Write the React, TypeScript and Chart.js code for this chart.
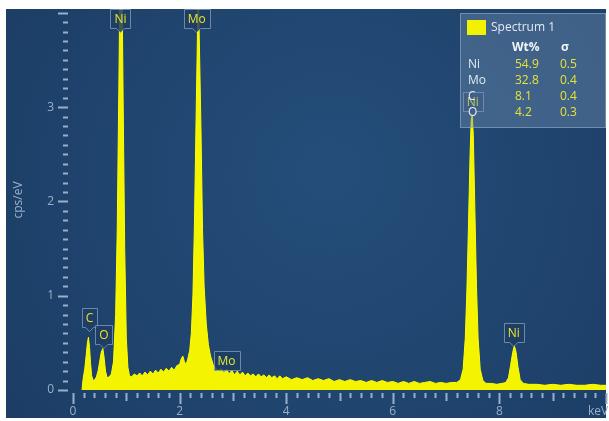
import React, { useEffect, useRef } from "react";
import { Chart, registerables } from "chart.js";

Chart.register(...registerables);

// ---- data ----
const energies = [
  0.17, 0.19, 0.22, 0.25, 0.27, 0.29, 0.31, 0.33, 0.35, 0.38, 0.41, 0.44, 0.47, 0.5, 0.53, 0.56, 0.58, 0.61, 0.64,
  0.68, 0.72, 0.76, 0.8, 0.83, 0.86, 0.88, 0.9, 0.92, 0.94, 0.97, 1.0, 1.03, 1.06, 1.1, 1.15, 1.2, 1.25, 1.3, 1.35,
  1.4, 1.45, 1.5, 1.55, 1.6, 1.65, 1.7, 1.75, 1.8, 1.85, 1.9, 1.95, 2.0, 2.03, 2.06, 2.09, 2.12, 2.15, 2.19, 2.22,
  2.25, 2.28, 2.31, 2.33, 2.35, 2.37, 2.4, 2.43, 2.46, 2.5, 2.54, 2.58, 2.63, 2.68, 2.73, 2.78, 2.83, 2.88, 2.93,
  2.98, 3.03, 3.08, 3.13, 3.18, 3.23, 3.28, 3.33, 3.38, 3.43, 3.48, 3.53, 3.58, 3.63, 3.68, 3.73, 3.78, 3.83, 3.88,
  3.93, 4.0, 4.1, 4.2, 4.3, 4.4, 4.5, 4.6, 4.7, 4.8, 4.9, 5.0, 5.1, 5.2, 5.3, 5.4, 5.5, 5.6, 5.7, 5.8, 5.9, 6.0,
  6.1, 6.2, 6.3, 6.4, 6.5, 6.6, 6.7, 6.8, 6.9, 7.0, 7.1, 7.2, 7.27, 7.32, 7.36, 7.39, 7.42, 7.45, 7.47, 7.49, 7.51,
  7.54, 7.57, 7.6, 7.64, 7.69, 7.75, 7.85, 7.95, 8.05, 8.12, 8.17, 8.21, 8.25, 8.28, 8.31, 8.35, 8.39, 8.45, 8.55,
  8.7, 8.85, 9.0, 9.15, 9.3, 9.45, 9.6, 9.75, 9.9, 10.0,
];
const counts = [
  0, 0.12, 0.22, 0.38, 0.5, 0.56, 0.45, 0.28, 0.15, 0.1, 0.11, 0.14, 0.2, 0.3, 0.4, 0.44, 0.36, 0.2, 0.13,
  0.14, 0.17, 0.3, 0.8, 1.7, 3.2, 4.3, 4.7, 4.3, 3.1, 1.5, 0.55, 0.24, 0.15, 0.14, 0.17, 0.15, 0.18, 0.15, 0.19,
  0.16, 0.2, 0.17, 0.21, 0.18, 0.22, 0.19, 0.23, 0.2, 0.24, 0.21, 0.26, 0.27, 0.33, 0.36, 0.3, 0.27, 0.32, 0.42, 0.6,
  1.0, 1.8, 2.9, 3.6, 4.3, 3.7, 2.8, 1.7, 1.1, 0.7, 0.48, 0.36, 0.27, 0.23, 0.21, 0.23, 0.18, 0.22, 0.17,
  0.21, 0.16, 0.2, 0.16, 0.19, 0.15, 0.18, 0.15, 0.17, 0.14, 0.17, 0.14, 0.16, 0.13, 0.16, 0.13, 0.15, 0.12, 0.15,
  0.12, 0.14, 0.11, 0.13, 0.11, 0.13, 0.1, 0.12, 0.1, 0.12, 0.09, 0.11, 0.09, 0.11, 0.09, 0.1, 0.08, 0.1, 0.08, 0.1, 0.08, 0.09,
  0.07, 0.09, 0.07, 0.09, 0.07, 0.08, 0.09, 0.07, 0.08, 0.07, 0.08, 0.08, 0.11, 0.22, 0.55, 1.05, 1.75, 2.5, 2.85, 2.92, 2.7,
  1.9, 1.1, 0.55, 0.22, 0.1, 0.07, 0.07, 0.06, 0.07, 0.08, 0.13, 0.26, 0.4, 0.47, 0.41, 0.24, 0.11, 0.07, 0.06,
  0.06, 0.05, 0.06, 0.05, 0.06, 0.05, 0.05, 0.06, 0.05, 0.05,
];

const xTickLabels = ["0", "2", "4", "6", "8"];
const yTickLabels = ["0", "1", "2", "3"];
const xAxisTitle = "keV";
const yAxisTitle = "cps/eV";

const peakLabelText = ["Ni", "Mo", "C", "O", "Mo", "Ni", "Ni"];
const peakLabelEnergy = [0.89, 2.32, 0.31, 0.58, 2.88, 7.5, 8.27];
const peakLabelValue = [3.8, 3.8, 0.63, 0.45, 0.31, 2.92, 0.47];
const peakLabelPointer = [true, true, true, true, false, true, true];

const legendTitle = "Spectrum 1";
const legendHeaders = ["Wt%", "σ"];
const legendElements = ["Ni", "Mo", "C", "O"];
const legendWt = ["54.9", "32.8", "8.1", "4.2"];
const legendSigma = ["0.5", "0.4", "0.4", "0.3"];

const FONT = "'Open Sans', 'DejaVu Sans', sans-serif";
const AXIS_COLOR = "#9ab0c8";

const backdropPlugin = {
  id: "backdrop",
  beforeDraw(chart: any) {
    const { ctx, width, height } = chart;
    ctx.save();
    ctx.fillStyle = "#ffffff";
    ctx.fillRect(0, 0, width, height);
    const g = ctx.createRadialGradient(330, 170, 20, 330, 200, 420);
    g.addColorStop(0, "rgb(36,77,121)");
    g.addColorStop(1, "rgb(27,60,100)");
    ctx.fillStyle = g;
    ctx.fillRect(6, 9, width - 9, height - 12);
    ctx.restore();
  },
};

const axesPlugin = {
  id: "customAxes",
  afterDatasetsDraw(chart: any) {
    const { ctx, scales } = chart;
    const xs = scales.x;
    const ys = scales.y;
    ctx.save();
    ctx.strokeStyle = AXIS_COLOR;
    ctx.fillStyle = AXIS_COLOR;
    ctx.lineWidth = 2;
    for (let i = 0; i <= 40; i++) {
      const v = i / 10;
      const py = Math.round(ys.getPixelForValue(v)) + 0.5;
      const major = i % 10 === 0;
      ctx.beginPath();
      ctx.moveTo(major ? 58 : 63, py);
      ctx.lineTo(68, py);
      ctx.stroke();
    }
    ctx.font = `12px ${FONT}`;
    ctx.textAlign = "right";
    ctx.textBaseline = "middle";
    yTickLabels.forEach((t) => {
      ctx.fillText(t, 54, ys.getPixelForValue(Number(t)));
    });
    for (let i = 0; i <= 50; i++) {
      const v = i / 5;
      const px = Math.round(xs.getPixelForValue(v)) + 0.5;
      let len = 5;
      if (i % 10 === 0) len = 11;
      else if (i % 5 === 0) len = 8;
      ctx.beginPath();
      ctx.moveTo(px, 393);
      ctx.lineTo(px, 393 + len);
      ctx.stroke();
    }
    ctx.textAlign = "center";
    xTickLabels.forEach((t) => {
      ctx.fillText(t, xs.getPixelForValue(Number(t)), 412);
    });
    ctx.fillText(xAxisTitle, 598, 412);
    ctx.save();
    ctx.translate(19, 200);
    ctx.rotate(-Math.PI / 2);
    ctx.fillText(yAxisTitle, 0, 0);
    ctx.restore();
    ctx.restore();
  },
};

const labelsPlugin = {
  id: "peakLabels",
  afterDatasetsDraw(chart: any) {
    const { ctx, scales } = chart;
    const xs = scales.x;
    const ys = scales.y;
    ctx.save();
    ctx.font = `12px ${FONT}`;
    ctx.textAlign = "center";
    ctx.textBaseline = "middle";
    peakLabelText.forEach((t, i) => {
      const cx = xs.getPixelForValue(peakLabelEnergy[i]);
      const vy = ys.getPixelForValue(peakLabelValue[i]);
      const w = Math.ceil(ctx.measureText(t).width) + 7;
      const h = 19;
      let top: number;
      if (peakLabelPointer[i]) top = vy - 4 - h;
      else top = vy - h / 2;
      const left = Math.round(cx - w / 2) + 0.5;
      top = Math.round(top) + 0.5;
      ctx.beginPath();
      ctx.moveTo(left, top);
      ctx.lineTo(left + w, top);
      ctx.lineTo(left + w, top + h);
      if (peakLabelPointer[i]) {
        ctx.lineTo(cx + 4, top + h);
        ctx.lineTo(cx, top + h + 4);
        ctx.lineTo(cx - 4, top + h);
      }
      ctx.lineTo(left, top + h);
      ctx.closePath();
      ctx.fillStyle = "rgba(30,62,98,0.85)";
      ctx.fill();
      ctx.strokeStyle = "rgba(130,160,195,0.75)";
      ctx.lineWidth = 1;
      ctx.stroke();
      ctx.fillStyle = "#e4e436";
      ctx.fillText(t, cx, top + h / 2 + 1);
    });
    ctx.restore();
  },
};

const legendPlugin = {
  id: "spectrumLegend",
  afterDraw(chart: any) {
    const { ctx, chartArea } = chart;
    const right = chartArea.right;
    const left = 460;
    const top = 13;
    ctx.save();
    ctx.fillStyle = "rgba(115,145,180,0.4)";
    ctx.fillRect(left, top, right - left, 115);
    ctx.strokeStyle = "rgba(160,185,215,0.5)";
    ctx.lineWidth = 1;
    ctx.strokeRect(left + 0.5, top + 0.5, right - left - 1, 114);
    ctx.fillStyle = "#f2f200";
    ctx.fillRect(467, 20, 19, 15);
    ctx.textBaseline = "middle";
    ctx.textAlign = "left";
    ctx.font = `12px ${FONT}`;
    ctx.fillStyle = "#e3eaf2";
    ctx.fillText(legendTitle, 491, 28);
    ctx.font = `bold 12px ${FONT}`;
    ctx.fillStyle = "#f0f4f8";
    ctx.fillText(legendHeaders[0], 512, 48);
    ctx.fillText(legendHeaders[1], 561, 48);
    ctx.font = `12px ${FONT}`;
    legendElements.forEach((el, i) => {
      const y = 65 + i * 16;
      ctx.fillStyle = "#e3eaf2";
      ctx.fillText(el, 468, y);
      ctx.fillStyle = "#e4e436";
      ctx.fillText(legendWt[i], 515, y);
      ctx.fillText(legendSigma[i], 560, y);
    });
    ctx.restore();
  },
};

export default function App() {
  const ref = useRef<HTMLCanvasElement>(null);
  useEffect(() => {
    if (!ref.current) return;
    const chart = new Chart(ref.current, {
      type: "line",
      data: {
        datasets: [
          {
            label: legendTitle,
            data: energies.map((e, i) => ({ x: e, y: counts[i] })),
            borderColor: "#ffff00",
            backgroundColor: "#f4f400",
            fill: "origin",
            pointRadius: 0,
            borderWidth: 1,
            tension: 0,
          },
        ],
      },
      options: {
        responsive: false,
        animation: false,
        devicePixelRatio: 1,
        layout: { padding: { left: 73, right: 3, top: 9, bottom: 31 } },
        scales: {
          x: { type: "linear", min: 0, max: 10, display: false },
          y: { min: 0, max: 4.04, display: false },
        },
        plugins: { legend: { display: false }, tooltip: { enabled: false } },
      },
      plugins: [backdropPlugin, axesPlugin, labelsPlugin, legendPlugin],
    } as any);
    return () => chart.destroy();
  }, []);
  return (
    <div style={{ position: "absolute", left: 0, top: 0, width: 609, height: 421 }}>
      <canvas ref={ref} width={609} height={421} style={{ display: "block" }} />
    </div>
  );
}
